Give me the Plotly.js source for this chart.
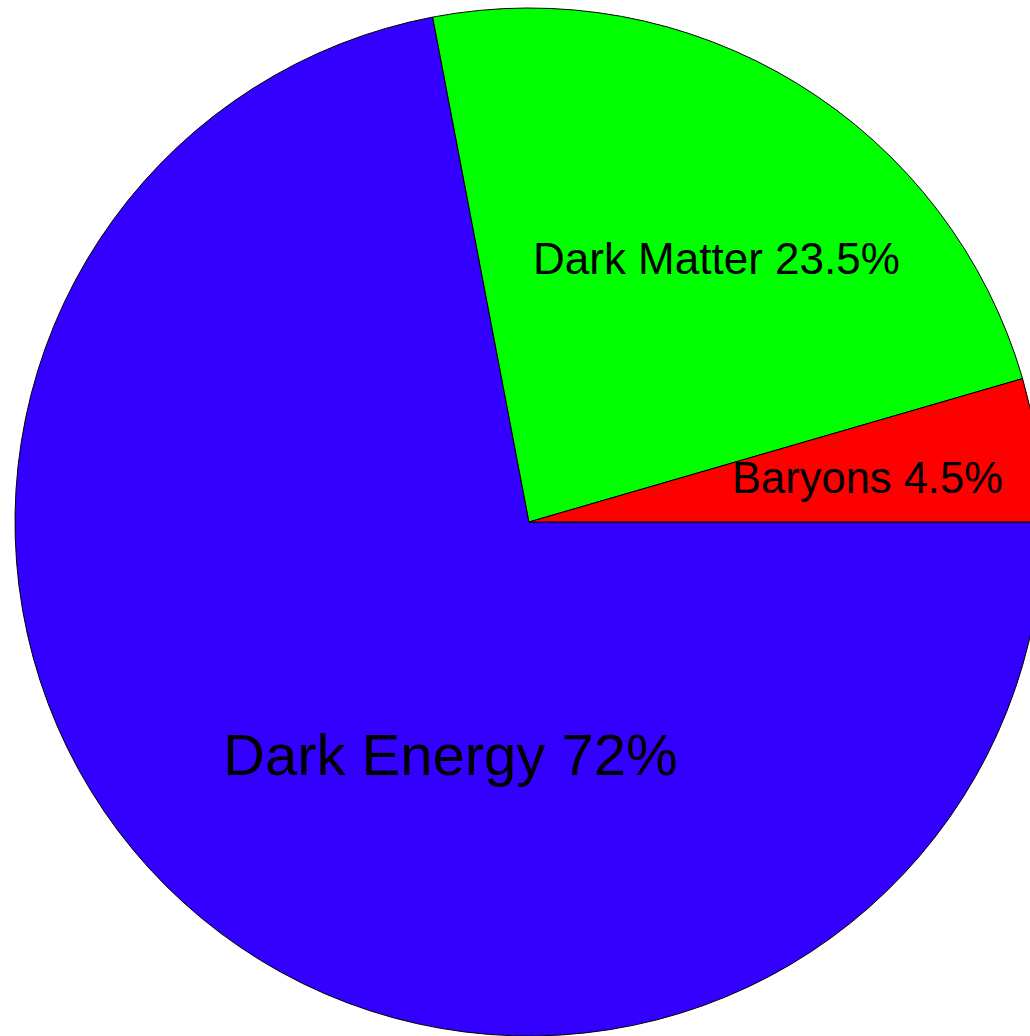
<!DOCTYPE html>
<html>
<head>
<meta charset="utf-8">
<script src="https://cdn.plot.ly/plotly-3.0.1.min.js"></script>
<style>
html, body { margin: 0; padding: 0; overflow: hidden; background: #fff; }
#chart { width: 1060px; height: 1036px; }
</style>
</head>
<body>
<div id="chart"></div>
<script>
const labels = ["Dark Energy", "Dark Matter", "Baryons"];
const values = [72, 23.5, 4.5];
const colors = ["#3300ff", "#00ff00", "#ff0000"];

const W = 1060, H = 1036;
const cx = 529, cy = 522, R = 514;

// label placement (pixels) and font sizes
const labelPos = [[450, 754], [716, 258], [867, 478]];
const labelSize = [58, 44, 43.5];

const annotations = labels.map((l, i) => ({
  text: l + " " + values[i] + "%",
  xref: "paper", yref: "paper",
  x: labelPos[i][0] / W, y: 1 - labelPos[i][1] / H,
  xanchor: "center", yanchor: "middle",
  showarrow: false,
  font: { family: "Liberation Sans, Arial, sans-serif", size: labelSize[i], color: "#000" }
}));

const data = [{
  type: "pie",
  labels: labels,
  values: values,
  sort: false,
  direction: "clockwise",
  rotation: 90,
  marker: { colors: colors, line: { color: "#000", width: 1 } },
  textinfo: "none",
  hoverinfo: "none",
  showlegend: false,
  domain: { x: [(cx - R) / W, (cx + R) / W], y: [1 - (cy + R) / H, 1 - (cy - R) / H] }
}];

const layout = {
  width: W, height: H,
  margin: { l: 0, r: 0, t: 0, b: 0 },
  paper_bgcolor: "#fff",
  showlegend: false,
  annotations: annotations
};

Plotly.newPlot("chart", data, layout, { staticPlot: true, displayModeBar: false });
</script>
</body>
</html>
